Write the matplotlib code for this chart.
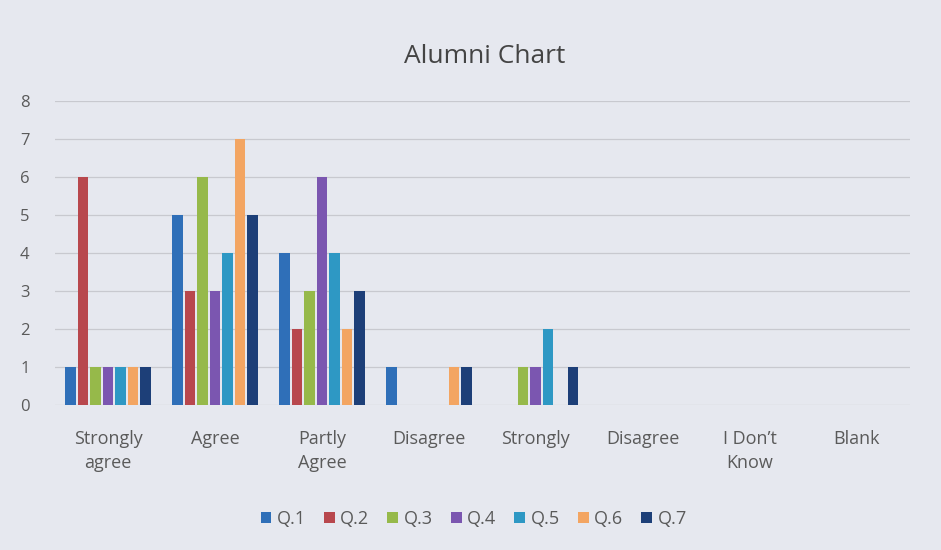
import numpy as np
import matplotlib.pyplot as plt

categories = ['Strongly\nagree', 'Agree', 'Partly\nAgree', 'Disagree', 'Strongly',
              'Disagree', "I Don\u2019t\nKnow", 'Blank']
series = ['Q.1', 'Q.2', 'Q.3', 'Q.4', 'Q.5', 'Q.6', 'Q.7']
q1 = [1, 5, 4, 1, 0, 0, 0, 0]
q2 = [6, 3, 2, 0, 0, 0, 0, 0]
q3 = [1, 6, 3, 0, 1, 0, 0, 0]
q4 = [1, 3, 6, 0, 1, 0, 0, 0]
q5 = [1, 4, 4, 0, 2, 0, 0, 0]
q6 = [1, 7, 2, 1, 0, 0, 0, 0]
q7 = [1, 5, 3, 1, 1, 0, 0, 0]
values = [q1, q2, q3, q4, q5, q6, q7]
colors = ['#2f6fb8', '#b8474d', '#96b94a', '#7b56b0', '#2e98c4', '#f3a562', '#1d3f78']

bg = '#e6e8ef'
plt.rcParams['font.family'] = ['Open Sans', 'DejaVu Sans']

fig = plt.figure(figsize=(9.41, 5.5), dpi=100, facecolor=bg)
ax = fig.add_axes([0.058, 0.264, 0.909, 0.552], facecolor=bg)

x = np.arange(len(categories))
step = 0.117
w = 0.098
for i, (name, vals) in enumerate(zip(series, values)):
    ax.bar(x + (i - 3) * step, vals, width=w, color=colors[i], label=name, zorder=3)

ax.set_xlim(-0.5, 7.5)
ax.set_ylim(0, 8)
ax.set_yticks(range(9))
ax.set_xticks(x)
ax.set_xticklabels(categories, fontsize=13, color='#5a5a5a', linespacing=1.45)
ax.tick_params(axis='y', labelsize=12, labelcolor='#5a5a5a', length=0, pad=18)
ax.tick_params(axis='x', length=0, pad=18)
ax.grid(axis='y', color='#c8c9cf', lw=0.9, zorder=0)
for s in ax.spines.values():
    s.set_visible(False)

fig.text(0.515, 0.898, 'Alumni Chart', ha='center', va='center', fontsize=19, color='#444444')

ax.legend(loc='center', bbox_to_anchor=(0.49, -0.375), ncol=7, frameon=False,
          handlelength=0.6, handleheight=0.6, handletextpad=0.3, columnspacing=1.0,
          fontsize=13, labelcolor='#5a5a5a')

fig.savefig('out.png', dpi=100, facecolor=bg)
